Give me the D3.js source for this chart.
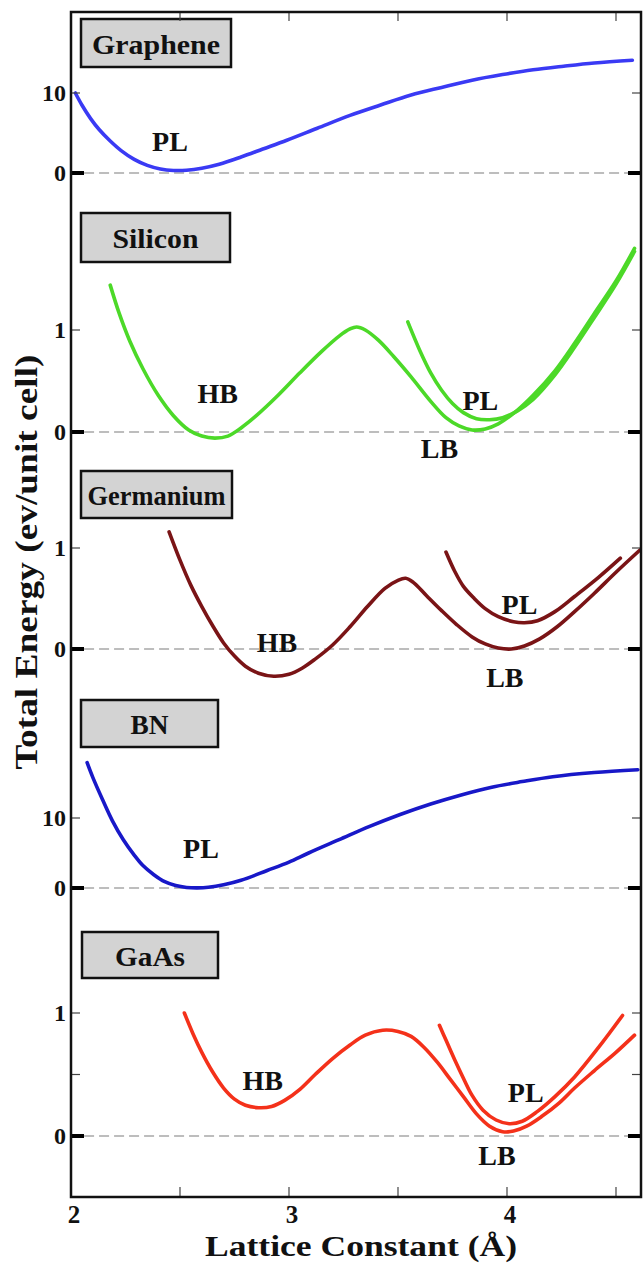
<!DOCTYPE html>
<html>
<head>
<meta charset="utf-8">
<script src="https://cdn.jsdelivr.net/npm/d3@7"></script>
<style>
html,body{margin:0;padding:0;background:#fff;}
svg{display:block;}
</style>
</head>
<body>
<svg id="chart" width="644" height="1264"></svg>
<script>
// ---------------- DATA ----------------
const xTicks = [2, 2.5, 3, 3.5, 4, 4.5];
const xTickLabels = ["2", "", "3", "", "4", ""];
const materials = ["Graphene", "Silicon", "Germanium", "BN", "GaAs"];

// Graphene (PL)
const grapheneX = [2.02, 2.05, 2.09, 2.13, 2.18, 2.23, 2.29, 2.35, 2.41, 2.47, 2.53, 2.60, 2.68, 2.78, 2.88, 2.99, 3.13, 3.28, 3.42, 3.56, 3.70, 3.84, 3.98, 4.12, 4.26, 4.40, 4.575];
const grapheneE = [10.0, 8.5, 6.8, 5.4, 4.0, 2.8, 1.7, 0.95, 0.5, 0.32, 0.35, 0.6, 1.1, 2.0, 3.0, 4.1, 5.6, 7.2, 8.5, 9.75, 10.7, 11.6, 12.3, 12.9, 13.35, 13.75, 14.1];

// Silicon HB -> LB (one continuous curve)
const siliconHBX = [2.18, 2.22, 2.27, 2.33, 2.40, 2.47, 2.54, 2.60, 2.66, 2.72, 2.78, 2.85, 2.95, 3.05, 3.15, 3.23, 3.28, 3.31, 3.35, 3.41, 3.48, 3.56, 3.65, 3.72, 3.78, 3.84, 3.90, 3.96, 4.04, 4.12, 4.22, 4.31, 4.40, 4.50, 4.585];
const siliconHBE = [1.44, 1.17, 0.89, 0.62, 0.36, 0.16, 0.02, -0.04, -0.06, -0.04, 0.04, 0.16, 0.36, 0.58, 0.79, 0.94, 1.01, 1.03, 1.0, 0.90, 0.74, 0.54, 0.30, 0.14, 0.06, 0.02, 0.03, 0.08, 0.20, 0.36, 0.60, 0.87, 1.16, 1.48, 1.80];
// Silicon PL
const siliconPLX = [3.545, 3.60, 3.65, 3.70, 3.75, 3.80, 3.86, 3.92, 3.98, 4.05, 4.12, 4.22, 4.31, 4.40, 4.50, 4.585];
const siliconPLE = [1.08, 0.80, 0.58, 0.41, 0.28, 0.19, 0.13, 0.12, 0.14, 0.21, 0.32, 0.56, 0.83, 1.12, 1.45, 1.77];

// Germanium HB -> LB
const germaniumHBX = [2.45, 2.50, 2.55, 2.60, 2.65, 2.70, 2.75, 2.80, 2.86, 2.93, 3.00, 3.06, 3.12, 3.20, 3.28, 3.36, 3.44, 3.50, 3.535, 3.57, 3.63, 3.70, 3.77, 3.84, 3.90, 3.96, 4.02, 4.08, 4.15, 4.23, 4.31, 4.40, 4.50, 4.61];
const germaniumHBE = [1.16, 0.88, 0.63, 0.42, 0.23, 0.06, -0.07, -0.17, -0.24, -0.27, -0.25, -0.19, -0.10, 0.04, 0.22, 0.42, 0.60, 0.68, 0.70, 0.66, 0.53, 0.38, 0.24, 0.12, 0.05, 0.01, 0.00, 0.03, 0.10, 0.22, 0.37, 0.55, 0.76, 0.98];
// Germanium PL
const germaniumPLX = [3.72, 3.76, 3.80, 3.85, 3.90, 3.96, 4.03, 4.08, 4.14, 4.22, 4.31, 4.42, 4.52];
const germaniumPLE = [0.96, 0.77, 0.62, 0.50, 0.40, 0.32, 0.27, 0.26, 0.28, 0.37, 0.52, 0.71, 0.90];

// BN (PL)
const bnX = [2.074, 2.10, 2.145, 2.19, 2.24, 2.29, 2.33, 2.38, 2.43, 2.48, 2.53, 2.58, 2.63, 2.70, 2.78, 2.90, 3.00, 3.09, 3.23, 3.37, 3.51, 3.65, 3.79, 3.93, 4.07, 4.21, 4.40, 4.60];
const bnE = [17.9, 15.8, 12.6, 9.6, 6.9, 4.7, 3.2, 1.9, 0.9, 0.35, 0.08, 0.02, 0.1, 0.45, 1.1, 2.5, 3.7, 5.0, 6.9, 8.8, 10.5, 12.0, 13.3, 14.4, 15.2, 15.9, 16.5, 16.9];

// GaAs HB -> LB
const gaasHBX = [2.52, 2.56, 2.60, 2.65, 2.70, 2.75, 2.80, 2.86, 2.92, 2.98, 3.05, 3.12, 3.20, 3.28, 3.35, 3.43, 3.50, 3.56, 3.62, 3.68, 3.74, 3.80, 3.86, 3.92, 3.98, 4.03, 4.09, 4.16, 4.24, 4.31, 4.40, 4.50, 4.585];
const gaasHBE = [1.0, 0.83, 0.68, 0.52, 0.39, 0.30, 0.25, 0.23, 0.24, 0.29, 0.38, 0.50, 0.63, 0.74, 0.82, 0.86, 0.85, 0.81, 0.72, 0.60, 0.46, 0.32, 0.18, 0.08, 0.035, 0.04, 0.08, 0.16, 0.27, 0.39, 0.53, 0.68, 0.82];
// GaAs PL
const gaasPLX = [3.69, 3.72, 3.76, 3.80, 3.84, 3.89, 3.95, 4.01, 4.07, 4.14, 4.22, 4.31, 4.42, 4.53];
const gaasPLE = [0.90, 0.78, 0.62, 0.47, 0.33, 0.21, 0.13, 0.10, 0.12, 0.20, 0.32, 0.48, 0.72, 0.98];

// Phase labels [text, x, energy]
const grapheneLabels = [["PL", 2.454, 3.9]];
const siliconLabels = [["HB", 2.673, 0.38], ["PL", 3.878, 0.31], ["LB", 3.69, -0.16]];
const germaniumLabels = [["HB", 2.945, 0.06], ["PL", 4.057, 0.44], ["LB", 3.99, -0.28]];
const bnLabels = [["PL", 2.596, 5.7]];
const gaasLabels = [["HB", 2.88, 0.455], ["PL", 4.086, 0.35], ["LB", 3.954, -0.155]];

const grapheneYTicks = [0, 10];
const siliconYTicks = [0, 1];
const germaniumYTicks = [0, 1];
const bnYTicks = [0, 10];
const gaasYTicks = [0, 0.5, 1];

// ---------------- LAYOUT ----------------
const svg = d3.select("#chart");
const L = 71, R = 641, T = 12, B = 1197;
const x = d3.scaleLinear().domain([2, 4.6147]).range([L, R]);
const font = "'Liberation Serif', 'Times New Roman', serif";

const panels = [
  { name: materials[0], y: d3.scaleLinear().domain([0, 10]).range([173, 93]), ticks: grapheneYTicks,
    curves: [[grapheneX, grapheneE]], color: "#3a3af4", labels: grapheneLabels, box: [81, 19, 150, 48], tw: 128 },
  { name: materials[1], y: d3.scaleLinear().domain([0, 1]).range([432, 330]), ticks: siliconYTicks,
    curves: [[siliconHBX, siliconHBE], [siliconPLX, siliconPLE]], color: "#4cd928", labels: siliconLabels, box: [81, 213, 149, 49], tw: 86 },
  { name: materials[2], y: d3.scaleLinear().domain([0, 1]).range([649, 548]), ticks: germaniumYTicks,
    curves: [[germaniumHBX, germaniumHBE], [germaniumPLX, germaniumPLE]], color: "#7a1416", labels: germaniumLabels, box: [81, 471, 151, 47], tw: 138 },
  { name: materials[3], y: d3.scaleLinear().domain([0, 10]).range([888, 818]), ticks: bnYTicks,
    curves: [[bnX, bnE]], color: "#1818c8", labels: bnLabels, box: [81, 700, 137, 47], tw: 38 },
  { name: materials[4], y: d3.scaleLinear().domain([0, 1]).range([1136, 1013]), ticks: gaasYTicks,
    curves: [[gaasHBX, gaasHBE], [gaasPLX, gaasPLE]], color: "#f4311a", labels: gaasLabels, box: [82, 932, 136, 46], tw: 70 }
];

// zero reference lines
panels.forEach(p => {
  svg.append("line")
    .attr("x1", x(2.06)).attr("x2", x(4.58))
    .attr("y1", p.y(0)).attr("y2", p.y(0))
    .attr("stroke", "#a8a8a8").attr("stroke-width", 1.4)
    .attr("stroke-dasharray", "10,5");
});

// curves
const line = d3.line().x(d => x(d[0])).curve(d3.curveCatmullRom.alpha(0.5));
panels.forEach(p => {
  p.curves.forEach(([xs, es]) => {
    const pts = xs.map((v, i) => [v, es[i]]);
    svg.append("path")
      .datum(pts)
      .attr("d", line.y(d => p.y(d[1])))
      .attr("fill", "none")
      .attr("stroke", p.color)
      .attr("stroke-width", 3.6)
      .attr("stroke-linejoin", "round")
      .attr("stroke-linecap", "round");
  });
  p.labels.forEach(([t, lx, ly]) => {
    svg.append("text")
      .attr("x", x(lx)).attr("y", p.y(ly))
      .attr("text-anchor", "middle").attr("dominant-baseline", "central")
      .attr("font-family", font).attr("font-weight", "bold").attr("font-size", 28)
      .attr("fill", "#111").text(t);
  });
  // y ticks left & right
  p.ticks.forEach(tv => {
    const yy = p.y(tv);
    const major = tv === 0;
    [[L, 1], [R, -1]].forEach(([x0, dir]) => {
      svg.append("line")
        .attr("x1", x0).attr("x2", x0 + dir * (major ? 13 : 9))
        .attr("y1", yy).attr("y2", yy)
        .attr("stroke", major ? "#000" : "#444")
        .attr("stroke-width", major ? 4 : 1.2);
    });
    if (tv !== 0.5) {
      svg.append("text")
        .attr("x", L - 5).attr("y", yy)
        .attr("text-anchor", "end").attr("dominant-baseline", "central")
        .attr("font-family", font).attr("font-weight", "bold").attr("font-size", 24)
        .attr("fill", "#111").text(d3.format("d")(tv));
    }
  });
  // material box
  const [bx, by, bw, bh] = p.box;
  svg.append("rect").attr("x", bx).attr("y", by).attr("width", bw).attr("height", bh)
    .attr("fill", "#d3d3d3").attr("stroke", "#111").attr("stroke-width", 2.5);
  svg.append("text")
    .attr("x", bx + bw / 2).attr("y", by + bh / 2 + 1)
    .attr("text-anchor", "middle").attr("dominant-baseline", "central")
    .attr("font-family", font).attr("font-weight", "bold").attr("font-size", 28)
    .attr("textLength", p.tw).attr("lengthAdjust", "spacingAndGlyphs")
    .attr("fill", "#111").text(p.name);
});

// x ticks (top and bottom, inward)
xTicks.forEach((t, i) => {
  svg.append("line").attr("x1", x(t)).attr("x2", x(t)).attr("y1", B).attr("y2", B - 10)
    .attr("stroke", "#444").attr("stroke-width", 1.2);
  if (t > 2) svg.append("line").attr("x1", x(t)).attr("x2", x(t)).attr("y1", T).attr("y2", T + 9)
    .attr("stroke", "#444").attr("stroke-width", 1.2);
  if (xTickLabels[i]) {
    svg.append("text").attr("x", x(t) + 3).attr("y", B + 26)
      .attr("text-anchor", "middle")
      .attr("font-family", font).attr("font-weight", "bold").attr("font-size", 25)
      .attr("fill", "#111").text(xTickLabels[i]);
  }
});

// frame
svg.append("rect").attr("x", L).attr("y", T).attr("width", R - L).attr("height", B - T)
  .attr("fill", "none").attr("stroke", "#111").attr("stroke-width", 2.5);

// axis titles
svg.append("text").attr("x", 361).attr("y", 1256)
  .attr("text-anchor", "middle")
  .attr("font-family", font).attr("font-weight", "bold").attr("font-size", 30)
  .attr("textLength", 312).attr("lengthAdjust", "spacingAndGlyphs")
  .attr("fill", "#111").text("Lattice Constant (Å)");
svg.append("text")
  .attr("transform", "translate(37,562) rotate(-90)")
  .attr("text-anchor", "middle")
  .attr("font-family", font).attr("font-weight", "bold").attr("font-size", 32)
  .attr("textLength", 415).attr("lengthAdjust", "spacingAndGlyphs")
  .attr("fill", "#111").text("Total Energy (ev/unit cell)");
</script>
</body>
</html>
